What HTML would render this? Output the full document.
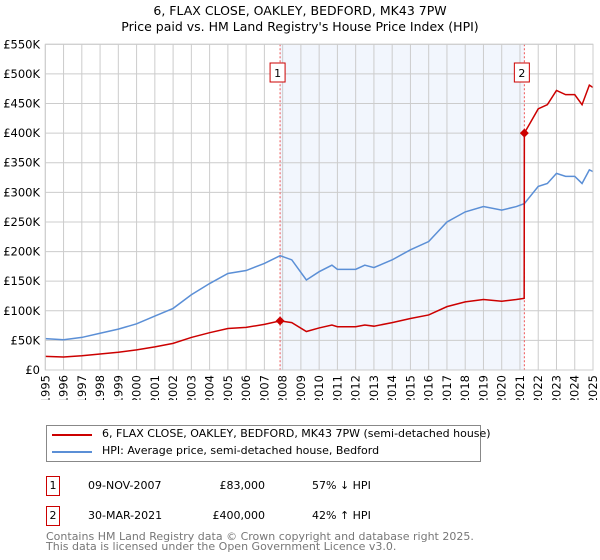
<!DOCTYPE html>
<html><head><meta charset="utf-8"><style>
body{margin:0;background:#fff;font-family:"DejaVu Sans","Liberation Sans",sans-serif;}
#wrap{position:relative;width:600px;height:560px;overflow:hidden;}
.t{position:absolute;white-space:nowrap;color:#000;}
</style></head><body>
<div id="wrap">
<div class="t" style="left:0;width:600px;text-align:center;top:3px;font-size:12.5px;line-height:16px">6, FLAX CLOSE, OAKLEY, BEDFORD, MK43 7PW<br>Price paid vs. HM Land Registry's House Price Index (HPI)</div>
<svg id="chart" width="600" height="400" style="position:absolute;left:0;top:0"></svg>
<div style="position:absolute;left:46px;top:425px;width:433px;height:35px;border:1px solid #888;background:#fff">
  <div style="position:absolute;left:5px;top:8px;width:40px;height:2px;background:#cc0000"></div>
  <div class="t" style="left:55px;top:1px;font-size:11px">6, FLAX CLOSE, OAKLEY, BEDFORD, MK43 7PW (semi-detached house)</div>
  <div style="position:absolute;left:5px;top:25px;width:40px;height:2px;background:#5b8fd6"></div>
  <div class="t" style="left:55px;top:18px;font-size:11px">HPI: Average price, semi-detached house, Bedford</div>
</div>
<div>
  <div class="t" style="left:46px;top:476px;width:12px;height:18px;border:1px solid #cc0000;font-size:11px;text-align:center;line-height:18px">1</div>
  <div class="t" style="left:88px;top:479px;font-size:11px">09-NOV-2007</div>
  <div class="t" style="left:200px;width:65px;text-align:right;top:479px;font-size:11px">£83,000</div>
  <div class="t" style="left:312px;top:479px;font-size:11px">57% ↓ HPI</div>
</div>
<div>
  <div class="t" style="left:46px;top:506px;width:12px;height:18px;border:1px solid #cc0000;font-size:11px;text-align:center;line-height:18px">2</div>
  <div class="t" style="left:88px;top:509px;font-size:11px">30-MAR-2021</div>
  <div class="t" style="left:200px;width:65px;text-align:right;top:509px;font-size:11px">£400,000</div>
  <div class="t" style="left:312px;top:509px;font-size:11px">42% ↑ HPI</div>
</div>
<div class="t" style="left:46px;top:532px;font-size:11px;line-height:10px;color:#777">Contains HM Land Registry data © Crown copyright and database right 2025.<br>This data is licensed under the Open Government Licence v3.0.</div>
</div>
<script>
const hpiYears=[1995,1996,1997,1998,1999,2000,2001,2002,2003,2004,2005,2006,2007,2007.86,2008.5,2009.3,2010,2010.7,2011,2012,2012.5,2013,2014,2015,2016,2017,2018,2019,2020,2020.8,2021.24,2022,2022.5,2023,2023.5,2024,2024.4,2024.8,2025];
const hpiValues=[53,51,55,62,69,78,91,104,127,146,163,168,180,193,186,152,166,177,170,170,177,173,186,203,217,250,267,276,270,276,281,310,315,332,327,327,315,338,335];
const priceYears=[1995,1996,1997,1998,1999,2000,2001,2002,2003,2004,2005,2006,2007,2007.86,2008.5,2009.3,2010,2010.7,2011,2012,2012.5,2013,2014,2015,2016,2017,2018,2019,2020,2020.8,2021.23,2021.24,2022,2022.5,2023,2023.5,2024,2024.4,2024.8,2025];
const priceValues=[23,22,24,27,30,34,39,45,55,63,70,72,77,83,80,65,71,76,73,73,76,74,80,87,93,107,115,119,116,119,121,400,441,448,472,465,465,448,481,477];
const sales=[{label:'1',year:2007.86,value:83},{label:'2',year:2021.24,value:400}];
const yTicks=[0,50,100,150,200,250,300,350,400,450,500,550];
const xTicks=[];for(let y=1995;y<=2025;y++)xTicks.push(y);

const svg=document.getElementById('chart');const NS='http://www.w3.org/2000/svg';
const X0=45.3,X1=593,Y0=370,Y1=44.3;
const xs=y=>X0+(y-1995)/30*(X1-X0);
const ys=v=>Y0-v/550*(Y0-Y1);
function mk(t,a,p){const e=document.createElementNS(NS,t);for(const k in a)e.setAttribute(k,a[k]);(p||svg).appendChild(e);return e;}
const shade=mk('rect',{x:xs(sales[0].year),y:Y1,width:xs(sales[1].year)-xs(sales[0].year),height:Y0-Y1,fill:'#f2f6fd'});


yTicks.forEach(v=>{
  const l=mk('line',{x1:X0,x2:X1,y1:ys(v),y2:ys(v),stroke:'#cccccc','stroke-width':1});
  
  
  const t=mk('text',{x:40,y:ys(v)+4,'text-anchor':'end','font-size':'11.5',fill:'#000'});
  t.textContent=v===0?'£0':'£'+v+'K';
  
  
});
xTicks.forEach(y=>{
  const l=mk('line',{x1:xs(y),x2:xs(y),y1:Y1,y2:Y0,stroke:'#cccccc','stroke-width':1});
  
  
  const t=mk('text',{x:0,y:0,'text-anchor':'end','font-size':'11.5',fill:'#000',transform:`translate(${xs(y)+4},375) rotate(-90)`});
  t.textContent=y;
  
  
});
sales.forEach(s=>{
  const l=mk('line',{x1:xs(s.year),x2:xs(s.year),y1:Y1,y2:Y0,stroke:'#e55','stroke-width':1,'stroke-dasharray':'2,2'});
  
  
});
const hp=mk('polyline',{points:hpiYears.map((y,i)=>xs(y)+','+ys(hpiValues[i])).join(' '),fill:'none',stroke:'#5b8fd6','stroke-width':1.5});


const pp=mk('polyline',{points:priceYears.map((y,i)=>xs(y)+','+ys(priceValues[i])).join(' '),fill:'none',stroke:'#cc0000','stroke-width':1.5});


sales.forEach(s=>{
  const cx=xs(s.year),cy=ys(s.value);
  const d=mk('polygon',{points:`${cx},${cy-4.5} ${cx+4.5},${cy} ${cx},${cy+4.5} ${cx-4.5},${cy}`,fill:'#cc0000'});
  
  
  const r=mk('rect',{x:cx-10,y:63,width:15,height:19,fill:'#fff',stroke:'#cc0000','stroke-width':1});
  
  
  const t=mk('text',{x:cx-2.5,y:77,'text-anchor':'middle','font-size':'11',fill:'#000'});
  t.textContent=s.label;
  
  
});
const b=mk('rect',{x:X0,y:Y1,width:X1-X0,height:Y0-Y1,fill:'none',stroke:'#cccccc','stroke-width':1});


</script>
</body></html>
